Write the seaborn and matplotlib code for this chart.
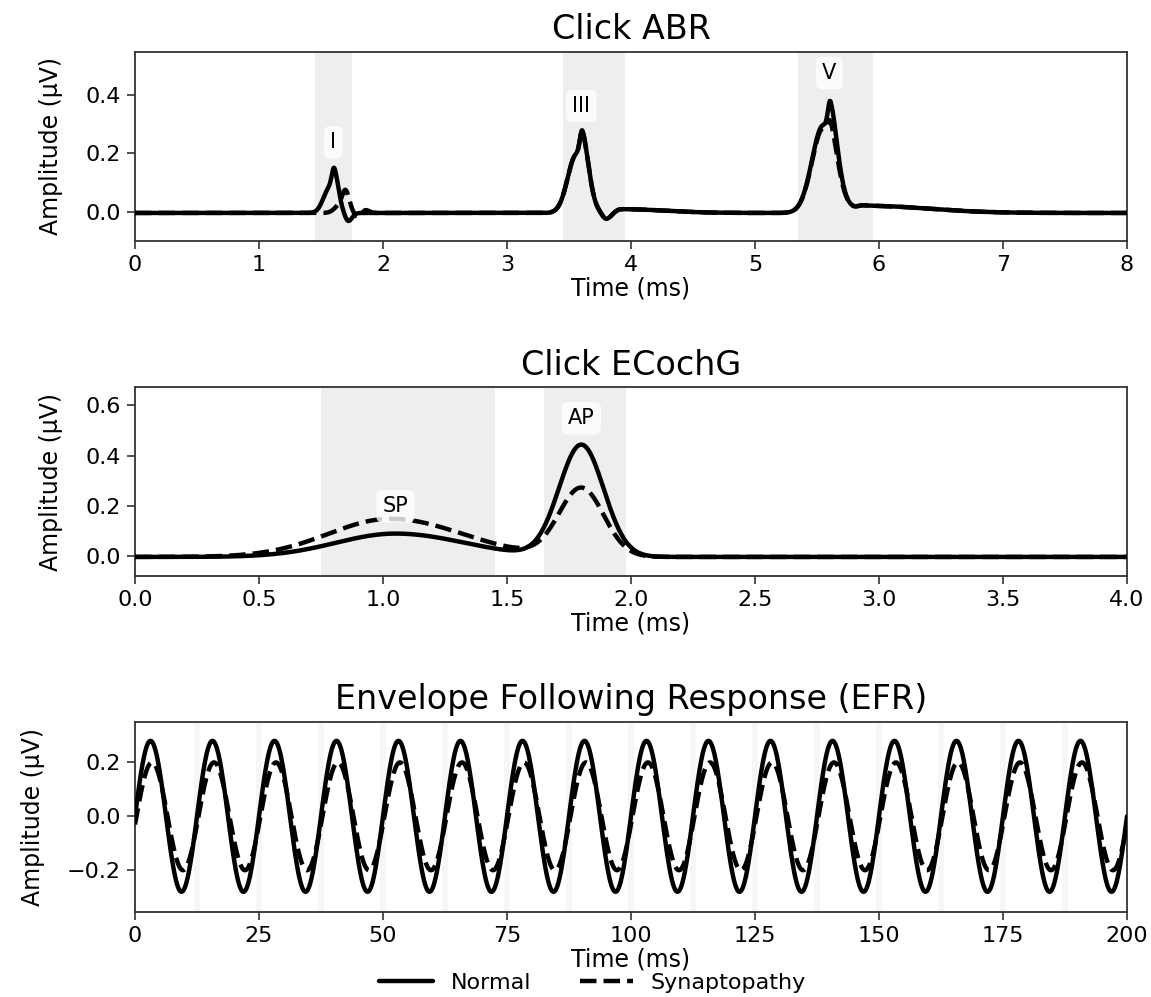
import numpy as np
import pandas as pd
import matplotlib
matplotlib.use("Agg")
import matplotlib.pyplot as plt
import seaborn as sns

# ---------------- data ----------------
# Click ABR: peak components (latency ms, left width, right width, amplitude uV)
abr_normal_lat = [1.57, 1.61, 1.72, 3.56, 3.61, 3.80, 3.92, 5.55, 5.61, 5.88]
abr_normal_wl = [0.05, 0.02, 0.025, 0.07, 0.02, 0.03, 0.05, 0.09, 0.02, 0.06]
abr_normal_wr = [0.04, 0.035, 0.03, 0.075, 0.05, 0.04, 0.35, 0.10, 0.05, 0.50]
abr_normal_amp = [0.085, 0.10, -0.028, 0.20, 0.12, -0.022, 0.013, 0.30, 0.13, 0.025]

abr_syn_lat = [1.66, 1.70, 1.79, 1.86, 3.56, 3.61, 3.80, 3.92, 5.55, 5.61, 5.88]
abr_syn_wl = [0.045, 0.025, 0.02, 0.02, 0.07, 0.02, 0.03, 0.05, 0.09, 0.02, 0.06]
abr_syn_wr = [0.04, 0.03, 0.025, 0.03, 0.075, 0.05, 0.04, 0.35, 0.10, 0.05, 0.50]
abr_syn_amp = [0.03, 0.06, -0.012, 0.01, 0.20, 0.12, -0.022, 0.013, 0.29, 0.07, 0.025]

abr_wave_labels = ["I", "III", "V"]
abr_label_x = [1.60, 3.60, 5.60]
abr_label_y = [0.238, 0.362, 0.475]
abr_windows = [(1.45, 1.75), (3.45, 3.95), (5.35, 5.95)]

# Click ECochG components (SP, AP)
ecog_normal_lat = [1.05, 1.80]
ecog_normal_wl = [0.24, 0.09]
ecog_normal_wr = [0.28, 0.09]
ecog_normal_amp = [0.093, 0.445]

ecog_syn_lat = [1.03, 1.80]
ecog_syn_wl = [0.25, 0.09]
ecog_syn_wr = [0.29, 0.09]
ecog_syn_amp = [0.152, 0.272]

ecog_wave_labels = ["SP", "AP"]
ecog_label_x = [1.05, 1.80]
ecog_label_y = [0.198, 0.548]
ecog_windows = [(0.75, 1.45), (1.65, 1.98)]

# EFR: modulation frequency (Hz), amplitudes (uV), lag (ms)
efr_mod_freq = 80.0
efr_amp_normal = 0.28
efr_amp_syn = 0.20
efr_lag_syn = 0.3
efr_window_centers = [12.5, 25, 37.5, 50, 62.5, 75, 87.5, 100, 112.5, 125,
                      137.5, 150, 162.5, 175, 187.5]
efr_window_half = 0.65

baseline_offset = -0.004

# ---------------- helpers ----------------
def waveform(t, lat, wl, wr, amp):
    y = np.zeros_like(t)
    for m, a, b, h in zip(lat, wl, wr, amp):
        s = np.where(t < m, a, b)
        y += h * np.exp(-0.5 * ((t - m) / s) ** 2)
    return y + baseline_offset

t_abr = np.linspace(0, 8, 2001)
t_ecog = np.linspace(0, 4, 1201)
t_efr = np.linspace(0, 200, 4001)

abr = pd.concat([
    pd.DataFrame({"t": t_abr, "y": waveform(t_abr, abr_normal_lat, abr_normal_wl, abr_normal_wr, abr_normal_amp), "cond": "Normal"}),
    pd.DataFrame({"t": t_abr, "y": waveform(t_abr, abr_syn_lat, abr_syn_wl, abr_syn_wr, abr_syn_amp), "cond": "Synaptopathy"}),
])
ecog = pd.concat([
    pd.DataFrame({"t": t_ecog, "y": waveform(t_ecog, ecog_normal_lat, ecog_normal_wl, ecog_normal_wr, ecog_normal_amp), "cond": "Normal"}),
    pd.DataFrame({"t": t_ecog, "y": waveform(t_ecog, ecog_syn_lat, ecog_syn_wl, ecog_syn_wr, ecog_syn_amp), "cond": "Synaptopathy"}),
])
efr = pd.concat([
    pd.DataFrame({"t": t_efr, "y": efr_amp_normal * np.sin(2 * np.pi * efr_mod_freq * t_efr / 1000.0), "cond": "Normal"}),
    pd.DataFrame({"t": t_efr, "y": efr_amp_syn * np.sin(2 * np.pi * efr_mod_freq * (t_efr - efr_lag_syn) / 1000.0), "cond": "Synaptopathy"}),
])

# ---------------- style ----------------
sns.set_style("ticks")
plt.rcParams.update({
    "font.family": ["DejaVu Sans"],
    "text.color": "black",
    "axes.labelcolor": "black",
    "axes.titlecolor": "black",
    "axes.edgecolor": "#333333",
    "axes.linewidth": 1.3,
    "xtick.color": "#333333",
    "ytick.color": "#333333",
    "xtick.labelcolor": "black",
    "ytick.labelcolor": "black",
    "xtick.major.size": 6,
    "ytick.major.size": 6,
    "xtick.major.width": 1.2,
    "ytick.major.width": 1.2,
})

fig = plt.figure(figsize=(11.51, 9.97), dpi=100)
W, H = 1151, 997
def ax_at(left, right, top, bottom):
    return fig.add_axes([left / W, 1 - bottom / H, (right - left) / W, (bottom - top) / H])

ax1 = ax_at(135, 1127, 52, 241)
ax2 = ax_at(135, 1127, 387, 576)
ax3 = ax_at(135, 1127, 722, 912)

lw = 3.2
tick_fs = 16
label_fs = 17
title_fs = 24
box = dict(boxstyle="round,pad=0.3", fc="white", ec="none", alpha=0.8)

def draw(ax, df, windows, span_alpha):
    for a, b in windows:
        ax.axvspan(a, b, color="0.5", alpha=span_alpha, lw=0, zorder=0)
    sns.lineplot(data=df[df.cond == "Normal"], x="t", y="y", color="black",
                 lw=lw, estimator=None, ax=ax, label="Normal", zorder=3)
    sns.lineplot(data=df[df.cond == "Synaptopathy"], x="t", y="y", color="black",
                 lw=lw, linestyle="--", estimator=None, ax=ax, label="Synaptopathy", zorder=3)
    ax.set_xlabel("Time (ms)", fontsize=label_fs, labelpad=1)
    ax.set_ylabel("Amplitude (µV)", fontsize=label_fs, labelpad=16)
    ax.tick_params(labelsize=tick_fs, pad=4)
    leg = ax.get_legend()
    if leg is not None:
        leg.remove()

# Panel 1: ABR
draw(ax1, abr, abr_windows, 0.13)
ax1.set_xlim(0, 8)
ax1.set_ylim(-0.1, 0.547)
ax1.set_yticks([0.0, 0.2, 0.4])
ax1.set_title("Click ABR", fontsize=title_fs, pad=9)
for lab, x, y in zip(abr_wave_labels, abr_label_x, abr_label_y):
    ax1.text(x, y, lab, ha="center", va="center", fontsize=15, bbox=box, zorder=5)

# Panel 2: ECochG
draw(ax2, ecog, ecog_windows, 0.13)
ax2.set_xlim(0, 4)
ax2.set_ylim(-0.08, 0.673)
ax2.set_xticks(np.arange(0, 4.01, 0.5))
ax2.set_yticks([0.0, 0.2, 0.4, 0.6])
ax2.set_title("Click ECochG", fontsize=title_fs, pad=9)
for lab, x, y in zip(ecog_wave_labels, ecog_label_x, ecog_label_y):
    ax2.text(x, y, lab, ha="center", va="center", fontsize=15, bbox=box, zorder=5)

# Panel 3: EFR
efr_windows = [(c - efr_window_half, c + efr_window_half) for c in efr_window_centers]
draw(ax3, efr, efr_windows, 0.07)
ax3.set_xlim(0, 200)
ax3.set_ylim(-0.355, 0.35)
ax3.set_xticks(np.arange(0, 201, 25))
ax3.set_yticks([-0.2, 0.0, 0.2])
ax3.set_title("Envelope Following Response (EFR)", fontsize=title_fs, pad=9)

handles, labels = ax3.get_legend_handles_labels()
fig.legend(handles, labels, loc="center", bbox_to_anchor=(0.515, 0.014), ncol=2,
           frameon=False, fontsize=16, handlelength=2.4, columnspacing=2.2)

fig.savefig("out.png", dpi=100)
